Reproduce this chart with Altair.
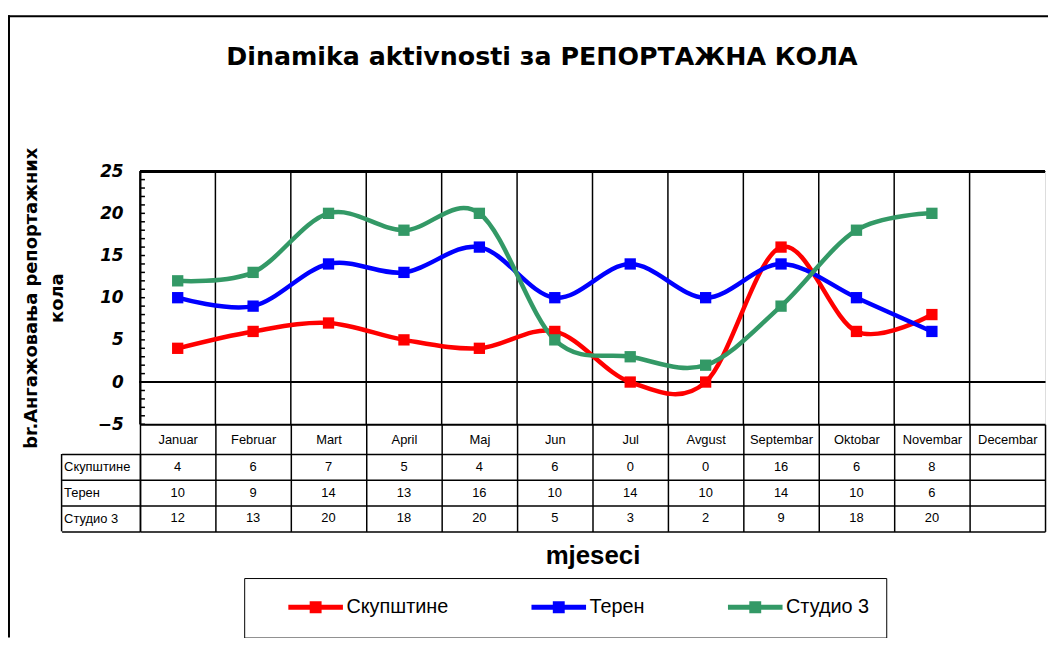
import altair as alt
import pandas as pd

# ---------------- data ----------------
months = ["Januar", "Februar", "Mart", "April", "Maj", "Jun", "Jul",
          "Avgust", "Septembar", "Oktobar", "Novembar", "Decembar"]
series = ["Скупштине", "Терен", "Студио 3"]
skupstine = [4, 6, 7, 5, 4, 6, 0, 0, 16, 6, 8]
teren = [10, 9, 14, 13, 16, 10, 14, 10, 14, 10, 6]
studio3 = [12, 13, 20, 18, 20, 5, 3, 2, 9, 18, 20]
colors = ["#FF0000", "#0000FF", "#339966"]
y_labels = [-5, 0, 5, 10, 15, 20, 25]
y_minor = list(range(-5, 26))
title_text = "Dinamika aktivnosti за РЕПОРТАЖНА КОЛА"
y_title = ["br.Ангажовања репортажних", "кола"]
x_title = "mjeseci"

rows = []
for name, vals in zip(series, [skupstine, teren, studio3]):
    for m, v in zip(months, vals):
        rows.append({"month": m, "series": name, "value": v})
df = pd.DataFrame(rows)
ticks_df = pd.DataFrame({"value": y_minor})
months_df = pd.DataFrame({"month": months})
one = pd.DataFrame({"t": [title_text]})

FONT = "Liberation Sans"
WIDE = "DejaVu Sans"
W, H = 912, 255

x_scale = alt.Scale(type="band", domain=months, paddingInner=0, paddingOuter=0)
x_axis = alt.Axis(
    orient="bottom", title=x_title, titleFont=FONT, titleFontSize=26,
    titleFontWeight="bold", titleColor="black", titleY=132,
    titleBaseline="middle",
    grid=False, tickBand="extent", ticks=True, tickSize=108,
    tickColor="black", tickWidth=1.5, domain=True, domainColor="black",
    domainWidth=2, labelFont=FONT, labelFontSize=13, labelColor="black",
    labelAngle=0, labelPadding=-93, labelBaseline="middle",
    labelOverlap=False,
)


def x_enc(band_pos):
    return alt.X("month:N", sort=months, bandPosition=band_pos,
                 scale=x_scale, axis=x_axis)


y_scale = alt.Scale(domain=[-5, 25], nice=False, zero=False)
y_enc = alt.Y(
    "value:Q", scale=y_scale,
    axis=alt.Axis(
        orient="left", values=y_labels, ticks=False, grid=False,
        domain=True, domainColor="black", domainWidth=2,
        labelFont=WIDE, labelFontSize=17, labelFontWeight="bold",
        labelFontStyle="italic", labelColor="black", labelPadding=17,
        labelFlush=False, labelOverlap=False, labelBaseline="middle",
        title=y_title, titleFont=WIDE, titleFontSize=18,
        titleFontWeight="bold", titleColor="black", titleX=-109,
        titleY=127.5, titleBaseline="middle", titleLineHeight=26,
        titleAlign="center", titleAngle=270,
    ),
)

legend_symbol = "M1.5,0H7M3.9,-0.35H4.6V0.35H3.9Z"

lines = alt.Chart(df).mark_line(
    interpolate="cardinal", tension=0, strokeWidth=4.5,
    strokeCap="round", strokeJoin="round",
    point=alt.OverlayMarkDef(shape="square", size=130, filled=True, opacity=1),
).encode(
    x=x_enc(0.5),
    y=y_enc,
    color=alt.Color(
        "series:N", sort=series,
        scale=alt.Scale(domain=series, range=colors),
        legend=alt.Legend(
            title=None, orient="none", legendX=105, legendY=410,
            direction="horizontal", columns=3, padding=17,
            strokeColor="black", symbolType=legend_symbol, symbolSize=400,
            symbolStrokeWidth=5, labelFont=FONT, labelFontSize=20,
            labelColor="black", labelOffset=61, columnPadding=56,
        ),
    ),
)

vgrid = alt.Chart(months_df).mark_rule(color="black", strokeWidth=1.5).encode(
    x=x_enc(0)
)

zero_rule = alt.Chart(ticks_df).mark_rule(color="black", strokeWidth=2).encode(
    y=alt.datum(0)
)
top_rule = alt.Chart(ticks_df).mark_rule(color="black", strokeWidth=2).encode(
    y=alt.datum(25)
)

minor_ticks = alt.Chart(ticks_df).mark_rule(color="black", strokeWidth=1.5).encode(
    y=alt.Y("value:Q", scale=y_scale),
    x=alt.value(0), x2=alt.value(5),
)

plot = alt.layer(vgrid, minor_ticks, zero_rule, top_rule, lines)

table = alt.Chart(df).mark_text(font=FONT, fontSize=13, color="black").encode(
    x=x_enc(0.5),
    y=alt.Y(
        "series:N", sort=series, bandPosition=0.5,
        scale=alt.Scale(type="band", domain=series, range=[285, 363],
                        paddingInner=0, paddingOuter=0),
        axis=alt.Axis(
            orient="left", title=None, grid=True, gridColor="black",
            gridWidth=1.5, gridOpacity=1, tickBand="extent", ticks=True,
            tickSize=79, tickColor="black", tickWidth=1.5, domain=True,
            domainColor="black", domainWidth=1.5, labelAlign="left",
            labelBaseline="middle", labelPadding=-2, labelFont=FONT,
            labelFontSize=13, labelColor="black",
        ),
    ),
    text="value:Q",
)

table_left = alt.Chart(one).mark_rule(color="black", strokeWidth=1.5).encode(
    x=alt.value(-79), y=alt.value(285), y2=alt.value(363)
)

title_mark = alt.Chart(one).mark_text(
    font=WIDE, fontSize=25.5, fontWeight="bold", color="black",
    baseline="middle"
).encode(text="t:N", x=alt.value(405), y=alt.value(-115))

frame_left = alt.Chart(one).mark_rule(color="black", strokeWidth=2).encode(
    x=alt.value(-132), y=alt.value(-157), y2=alt.value(470)
)
frame_top = alt.Chart(one).mark_rule(color="black", strokeWidth=2).encode(
    y=alt.value(-156), x=alt.value(-133), x2=alt.value(920)
)

chart = alt.layer(
    table, plot, table_left, title_mark, frame_left, frame_top
).resolve_scale(y="independent").properties(
    width=W, height=H,
    autosize=alt.AutoSizeParams(type="none"),
    padding={"left": 133, "top": 162, "right": 3, "bottom": 213},
).configure_view(
    stroke="black", strokeWidth=2
).configure_legend(
    strokeWidth=2
).configure(background="white")

chart.save("out.html", embed_options={"renderer": "svg", "actions": False})
